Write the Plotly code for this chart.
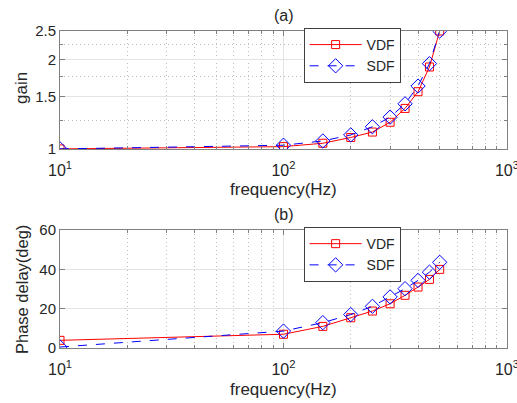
import plotly.graph_objects as go
from plotly.subplots import make_subplots

freq = [10, 100, 150, 200, 250, 300, 350, 400, 450, 500]
gain_vdf = [1.0, 1.018, 1.045, 1.093, 1.14, 1.23, 1.37, 1.56, 1.89, 2.5]
gain_sdf = [1.0, 1.029, 1.064, 1.115, 1.188, 1.28, 1.42, 1.63, 1.94, 2.5]
phase_vdf = [3.9, 7.0, 11.0, 15.4, 18.8, 22.5, 26.8, 31.0, 34.9, 40.0]
phase_sdf = [0.5, 8.6, 12.9, 17.0, 21.2, 26.0, 30.2, 34.4, 38.6, 43.6]

x_ticks = [10, 100, 1000]
x_ticktext = ["10<sup>1</sup>", "10<sup>2</sup>", "10<sup>3</sup>"]
x_minor = [20, 30, 40, 50, 60, 70, 80, 90, 200, 300, 400, 500, 600, 700, 800, 900]
gain_ticks = [1, 1.5, 2, 2.5]
gain_minor = [1.25, 1.75, 2.25]
phase_ticks = [0, 20, 40, 60]

RED = "#ff0000"
BLUE = "#0000ff"
TXT = "#262626"
AX = "#808080"
GRID = "#e3e3e3"
MINGRID = "#bdbdbd"
FONT = "Liberation Sans, Arial, sans-serif"

fig = make_subplots(rows=2, cols=1)

def add_series(y1, y2, row, legend):
    fig.add_trace(go.Scatter(x=freq, y=y1, name="VDF", mode="lines+markers",
                             line=dict(color=RED, width=1),
                             marker=dict(symbol="square-open", size=8, color=RED, line=dict(width=1)),
                             legend=legend), row=row, col=1)
    fig.add_trace(go.Scatter(x=freq, y=y2, name="SDF", mode="lines+markers",
                             line=dict(color=BLUE, width=1, dash="dash"),
                             marker=dict(symbol="diamond-open", size=11, color=BLUE, line=dict(width=1)),
                             legend=legend), row=row, col=1)

add_series(gain_vdf, gain_sdf, 1, "legend")
add_series(phase_vdf, phase_sdf, 2, "legend2")

xcommon = dict(type="log", range=[1, 3.0002], tickvals=x_ticks, ticktext=x_ticktext,
               showgrid=True, gridcolor=GRID, gridwidth=1,
               showline=True, linecolor=AX, linewidth=1, mirror="ticks",
               ticks="inside", ticklen=5, tickcolor=AX,
               tickfont=dict(size=16, color=TXT, family=FONT),
               ticklabelstandoff=7, ticklabeloverflow="allow",
               zeroline=False, automargin=False,
               minor=dict(tickvals=x_minor, ticks="inside", ticklen=3, tickcolor=AX,
                          showgrid=True, griddash="1px,3px", gridcolor=MINGRID, gridwidth=1))

fig.update_xaxes(**xcommon, domain=[0, 1])
fig.update_yaxes(showline=True, linecolor=AX, linewidth=1, mirror="ticks",
                 ticks="inside", ticklen=5, tickcolor=AX, automargin=False,
                 showgrid=True, gridcolor=GRID, gridwidth=1, zeroline=False,
                 ticklabeloverflow="allow",
                 tickfont=dict(size=15, color=TXT, family=FONT))

fig.update_yaxes(type="log", range=[0, 0.39794], tickvals=gain_ticks,
                 ticktext=["1", "1.5", "2", "2.5"],
                 minor=dict(tickvals=gain_minor, ticks="inside", ticklen=3, tickcolor=AX,
                            showgrid=True, griddash="1px,3px", gridcolor=MINGRID, gridwidth=1),
                 domain=[0.628, 1.0], row=1, col=1)
fig.update_yaxes(range=[0, 60], tickvals=phase_ticks, domain=[0, 0.372], row=2, col=1)

legend_style = dict(bgcolor="white", bordercolor="#404040", borderwidth=1,
                    font=dict(size=14, color=TXT, family=FONT),
                    xanchor="left", yanchor="top", tracegroupgap=0, itemwidth=52)

fig.update_layout(
    width=517, height=403,
    margin=dict(l=60, r=10, t=31, b=55, autoexpand=False),
    paper_bgcolor="white", plot_bgcolor="white",
    font=dict(family=FONT, color=TXT, size=14),
    legend=dict(**legend_style, x=0.545, y=1.0095),
    legend2=dict(**legend_style, x=0.545, y=0.3815),
)

H = 403 - 31 - 55
def py(pix):
    return (403 - 55 - pix) / H

for txt, xx, yy, sz in [("(a)", 0.5, py(15), 16), ("(b)", 0.5, py(215), 16),
                        ("frequency(Hz)", 0.5, py(189), 17), ("frequency(Hz)", 0.5, py(389), 17)]:
    fig.add_annotation(text=txt, x=xx, y=yy, xref="paper", yref="paper", showarrow=False,
                       font=dict(size=sz, color=TXT, family=FONT), xanchor="center", yanchor="middle")
fig.add_annotation(text="gain", x=(21 - 60) / 447, y=py(88), xref="paper", yref="paper",
                   showarrow=False, textangle=-90, font=dict(size=17, color=TXT, family=FONT),
                   xanchor="center", yanchor="middle")
fig.add_annotation(text="Phase delay(deg)", x=(22 - 60) / 447, y=py(290), xref="paper", yref="paper",
                   showarrow=False, textangle=-90, font=dict(size=16.5, color=TXT, family=FONT),
                   xanchor="center", yanchor="middle")

fig.write_html("out.html", config={"displayModeBar": False},
               post_script="document.body.style.margin='0px';")
